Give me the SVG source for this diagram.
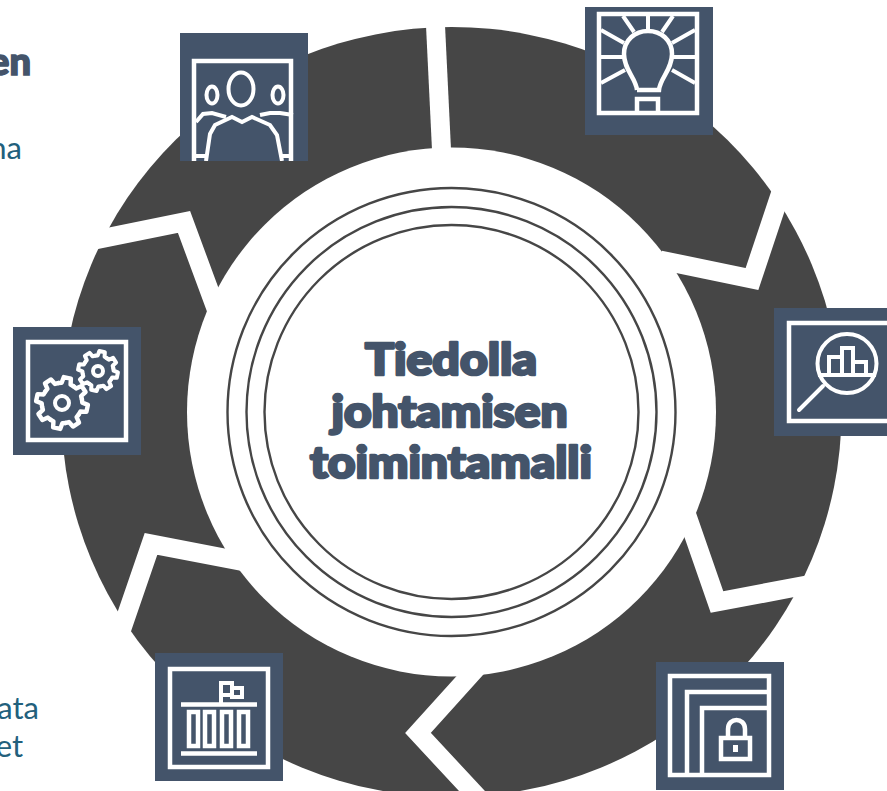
<svg xmlns="http://www.w3.org/2000/svg" xmlns:xlink="http://www.w3.org/1999/xlink" width="887" height="791" viewBox="0 0 887 791">
<style>
.box{fill:#44546a}
.ln{fill:none;stroke:#fff;stroke-width:4}
.fr{fill:none;stroke:#fff;stroke-width:4.5}
.gap{fill:none;stroke:#fff;stroke-width:19;stroke-linejoin:miter;stroke-miterlimit:10}
.ring{fill:none;stroke:#464646;stroke-width:2.4}
.title{font-family:"Lato","Liberation Sans",sans-serif;font-weight:900;font-size:43px;fill:#44546a;stroke:#44546a;stroke-width:2.6;stroke-linejoin:round;text-anchor:middle}
.side{font-family:"Lato","Liberation Sans",sans-serif;font-size:31px;fill:#22607c;text-anchor:end}
</style>
<defs>
<path id="tooth" d="M-.2985-.7206L-.1755-.76L-.139-.99L.139-.99L.1755-.76L.2985-.7206"/>
<g id="gear" fill="none" stroke="#fff" stroke-linecap="round" stroke-linejoin="round">
<use xlink:href="#tooth"/><use xlink:href="#tooth" transform="rotate(45)"/><use xlink:href="#tooth" transform="rotate(90)"/><use xlink:href="#tooth" transform="rotate(135)"/><use xlink:href="#tooth" transform="rotate(180)"/><use xlink:href="#tooth" transform="rotate(225)"/><use xlink:href="#tooth" transform="rotate(270)"/><use xlink:href="#tooth" transform="rotate(315)"/>
</g>
<clipPath id="c1"><rect x="180" y="33" width="128" height="128"/></clipPath>
<clipPath id="c3"><rect x="774" y="308" width="128" height="128"/></clipPath>
</defs>
<rect width="887" height="791" fill="#fff"/>
<g id="ring-base">
<ellipse cx="451.5" cy="412" rx="390" ry="385" fill="#464646"/>
</g>
<g id="connectors">
<path class="gap" d="M435 15L442 160"/>
<path class="gap" d="M783 186L752 279L660 260"/>
<path class="gap" d="M685 510L717 602L812 584"/>
<path class="gap" d="M482 662L418 733L485 805"/>
<path class="gap" d="M118 640L151 544L245 562"/>
<path class="gap" d="M85 242L184 222L218 314"/>
</g>
<g id="center">
<circle cx="451.5" cy="412" r="264.5" fill="#fff"/>
<circle class="ring" cx="451.5" cy="412" r="224"/>
<circle class="ring" cx="451.5" cy="412" r="205"/>
<circle class="ring" cx="451.5" cy="412" r="187"/>
<text class="title" x="451" y="375" textLength="172" lengthAdjust="spacingAndGlyphs">Tiedolla</text>
<text class="title" x="449.500" y="427" textLength="236" lengthAdjust="spacingAndGlyphs">johtamisen</text>
<text class="title" x="451" y="478" textLength="282" lengthAdjust="spacingAndGlyphs">toimintamalli</text>
</g>
<g id="side-text">
<text class="side" x="31" y="75" style="font-size:38px;font-weight:900;fill:#44546a;stroke:#44546a;stroke-width:1.6">en</text>
<text class="side" x="22" y="159">na</text>
<text class="side" x="39" y="719">ata</text>
<text class="side" x="23" y="757">et</text>
</g>
<g id="node-people">
<rect class="box" x="180" y="33" width="128" height="128"/>
<g clip-path="url(#c1)">
<path class="fr" d="M194 170V61H291V170"/>
<ellipse class="ln" cx="241" cy="89" rx="12.500" ry="16.500"/>
<ellipse class="ln" cx="212" cy="95" rx="5.500" ry="8.500"/>
<ellipse class="ln" cx="278" cy="95" rx="5.500" ry="8.500"/>
<path class="ln" d="M206 161L210 134L215 125L232 117L242 122L252 117L270 125L277 135L282 161"/>
<path class="ln" stroke-width="3" d="M196 122L203 114L212 113L226 117M260 115L270 113L280 113L293 115M196 156H206M282 156H293"/>
</g>
</g>
<g id="node-bulb">
<rect class="box" x="585" y="7" width="128" height="128"/>
<rect class="fr" x="599" y="14" width="98" height="99"/>
<path class="fr" d="M637 90C636 78 624 70 624 54C624 40 635 31 648 31C661 31 672 40 672 54C672 70 660 78 659 90H637"/>
<path class="ln" d="M648 14V30M623 16L634 32M673 16L662 32M601 30L624 43M695 30L672 43M601 57H623M673 57H695M601 83L625 70M695 83L672 70"/>
<path class="fr" d="M637 113V99H658V113"/>
</g>
<g id="node-analysis">
<rect class="box" x="774" y="308" width="113" height="128"/>
<g clip-path="url(#c3)">
<rect class="fr" x="789" y="323" width="120" height="98"/>
</g>
<circle class="ln" cx="847" cy="363.500" r="29.500"/>
<path class="ln" d="M799 410L823 386" stroke-linecap="round"/>
<path class="ln" d="M818 375H876M829 374V357H842V374M842 357V348H853V374M853 362H866V374"/>
</g>
<g id="node-lock">
<rect class="box" x="656" y="662" width="128" height="128"/>
<rect class="fr" x="670" y="676" width="99" height="99"/>
<path class="fr" d="M687 775V692H769M702 775V708H769"/>
<rect class="fr" x="721" y="738" width="29" height="21"/>
<path class="fr" d="M728 738V729C728 717 745 717 745 729V738"/>
<rect x="733" y="745" width="5" height="7" fill="#fff"/>
</g>
<g id="node-building">
<rect class="box" x="155" y="653" width="128" height="128"/>
<rect class="fr" x="170" y="669" width="98" height="98"/>
<path class="fr" d="M181 704.500H257M181 753.500H257"/>
<rect class="fr" x="189" y="712" width="9" height="34"/>
<rect class="fr" x="205" y="712" width="9" height="34"/>
<rect class="fr" x="222" y="712" width="9" height="34"/>
<rect class="fr" x="239" y="712" width="9" height="34"/>
<path class="ln" d="M221 703V683H232V695H221M232 688H242V697H232V695"/>
</g>
<g id="node-gears">
<rect class="box" x="13" y="327" width="128" height="128"/>
<rect class="fr" x="28" y="342" width="98" height="98"/>
<use xlink:href="#gear" transform="translate(62 403) rotate(12) scale(26)" stroke-width=".17"/>
<circle class="ln" cx="62" cy="403" r="7"/>
<use xlink:href="#gear" transform="translate(98 371) rotate(12) scale(20)" stroke-width=".2"/>
<circle class="ln" cx="98" cy="371" r="5"/>
</g>
</svg>
